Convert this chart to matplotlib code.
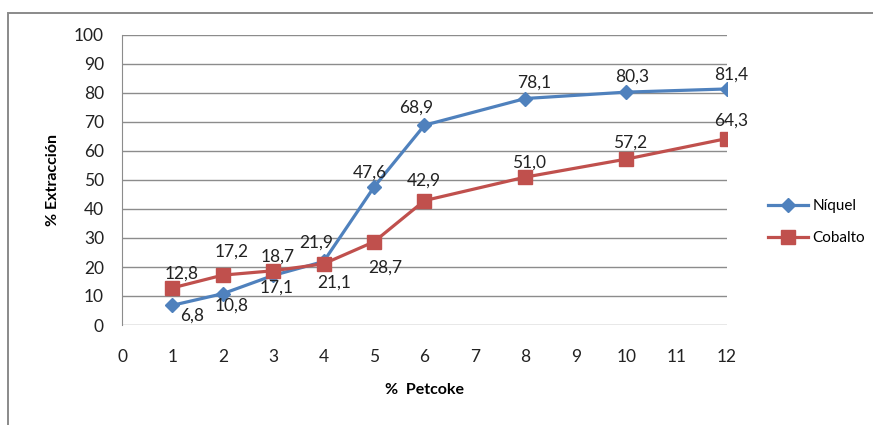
import matplotlib
matplotlib.use("Agg")
import matplotlib.pyplot as plt
from matplotlib.patches import Rectangle

plt.rcParams["font.family"] = ["Lato", "DejaVu Sans"]

#### Data

petcoke = [1, 2, 3, 4, 5, 6, 8, 10, 12]
niquel = [6.8, 10.8, 17.1, 21.9, 47.6, 68.9, 78.1, 80.3, 81.4]
cobalto = [12.8, 17.2, 18.7, 21.1, 28.7, 42.9, 51.0, 57.2, 64.3]

# label offsets in pixels (dx, dy), up is positive
off_ni = [(20, -10), (9, -12), (3, -12), (-7, 19), (-4, 14), (-8, 18), (9, 16), (6, 16), (4, 14)]
off_co = [(9, 14), (9, 23), (4, 14), (10, -19), (11, -26), (-1, 20), (4, 14), (4, 16), (4, 18)]

blue = "#4F81BD"
red = "#C0504D"
grid = "#8C8C8C"

#### Figure

fig = plt.figure(figsize=(8.73, 4.25), dpi=100)
fig.patches.append(Rectangle((8 / 873, -0.1), 1.2, 1 - 13 / 425 + 0.1,
                             transform=fig.transFigure, fill=False,
                             edgecolor="#8A8A8A", linewidth=1.4))

ax = fig.add_axes([122 / 873, 100 / 425, 605 / 873, 290 / 425])

ax.plot(petcoke, niquel, color=blue, lw=2.3, marker="D", ms=7.5, label="Níquel", zorder=3)
ax.plot(petcoke, cobalto, color=red, lw=2.3, marker="s", ms=10.5, label="Cobalto", zorder=3)

for x, y, o in zip(petcoke, niquel, off_ni):
    ax.annotate(f"{y:.1f}".replace(".", ","), (x, y), xytext=o, textcoords="offset pixels",
                ha="center", va="center", fontsize=12.5, color="#222222", zorder=4)
for x, y, o in zip(petcoke, cobalto, off_co):
    ax.annotate(f"{y:.1f}".replace(".", ","), (x, y), xytext=o, textcoords="offset pixels",
                ha="center", va="center", fontsize=12.5, color="#222222", zorder=4)

ax.set_xlim(0, 12)
ax.set_ylim(0, 100)
ax.set_xticks(range(0, 13))
ax.set_yticks(range(0, 101, 10))
ax.yaxis.grid(True, color=grid, lw=1)
ax.set_axisbelow(True)
for s in ["top", "right", "bottom"]:
    ax.spines[s].set_visible(False)
ax.spines["left"].set_color(grid)
ax.tick_params(axis="both", length=0, labelsize=12.5, colors="#222222")
ax.tick_params(axis="x", pad=17)
ax.tick_params(axis="y", pad=13)

ax.set_xlabel("%  Petcoke", fontsize=11.5, fontweight="bold", labelpad=13)
ax.set_ylabel("% Extracción", fontsize=11.5, fontweight="bold", labelpad=10)

ax.legend(loc="center left", bbox_to_anchor=(1.045, 0.355), frameon=False,
          fontsize=11, handlelength=2.6, labelspacing=1.2, handletextpad=0.3)

fig.savefig("out.png", dpi=100)
